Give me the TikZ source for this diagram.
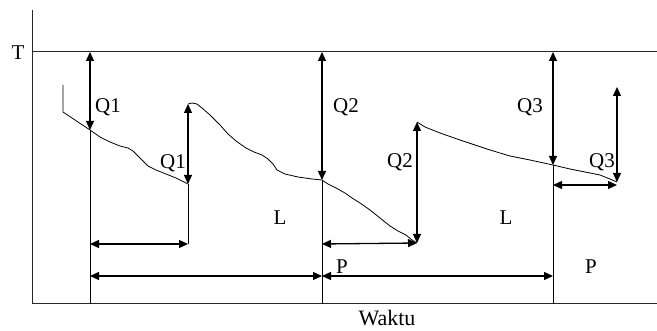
\documentclass[tikz,border=0pt]{standalone}
\usepackage{fontspec}
\setmainfont{Liberation Serif}
\usetikzlibrary{arrows.meta}
\begin{document}
\begin{tikzpicture}[x=1pt,y=-1pt,
  frame/.style={line width=1pt,draw=black!85},
  dim/.style={line width=1.3pt,{Triangle[length=9pt,width=8pt]}-{Triangle[length=9pt,width=8pt]}},
  curve/.style={line width=0.8pt},
  lbl/.style={font=\fontsize{21}{23}\selectfont,inner sep=0pt}]
\useasboundingbox (0,0) rectangle (657,331);
% axes
\coordinate (ytop) at (32,10);
\coordinate (o) at (32,304);
\coordinate (xend) at (657,304);
\coordinate (t0) at (32,52);
\coordinate (tend) at (657,52);
\draw[frame] (ytop) -- (o) -- (xend);
\draw[frame] (t0) -- (tend);
\node[lbl] (T) at (18,53) {T};
\node[lbl,font=\fontsize{22}{24}\selectfont] (wak) at (387,318) {Waktu};
% coordinates
\coordinate (a1) at (90,52);  \coordinate (b1) at (90,130); \coordinate (c1) at (90,304);
\coordinate (a2) at (322,52); \coordinate (b2) at (322,180); \coordinate (c2) at (322,304);
\coordinate (a3) at (553,52); \coordinate (b3) at (553,165); \coordinate (c3) at (553,304);
\coordinate (p1) at (188,104); \coordinate (m1) at (188,184); \coordinate (h1) at (188,244);
\coordinate (p2) at (417,122); \coordinate (m2) at (417,243);
\coordinate (p3) at (617,87);  \coordinate (m3) at (617,182);
% long verticals
\draw[curve] (b1) -- (c1);
\draw[curve] (b2) -- (c2);
\draw[curve] (b3) -- (c3);
\draw[curve] (m1) -- (h1);
% vertical dimension arrows
\draw[dim] (a1) -- (b1);
\draw[dim] (a2) -- (b2);
\draw[dim] (a3) -- (b3);
\draw[dim] (p1) -- (m1);
\draw[dim] (p2) -- (m2);
\draw[dim] (p3) -- (m3);
% horizontal arrows
\draw[dim] (90,244) -- (h1);
\draw[dim] (322,244) -- (m2);
\draw[dim] (90,276) -- (322,276);
\draw[dim] (322,276) -- (553,276);
\draw[dim] (553,185) -- (617,185);
% stock curves
\draw[curve] (63,85) -- (63,112) -- (b1) -- (100,137) -- (110,142) -- (120,146) -- (128,148) -- (133,151) -- (136,154) -- (142,160) -- (148,166) -- (156,170) -- (166,174) -- (176,178) -- (m1);
\draw[curve] (p1) -- (192,103) -- (197,104) -- (202,108) -- (210,115) -- (220,125) -- (228,134) -- (236,141) -- (246,148) -- (254,152) -- (262,155) -- (268,159) -- (273,164) -- (277,170) -- (285,174) -- (298,177) -- (312,179) -- (b2);
\draw[curve] (b2) -- (328,184) -- (336,188) -- (345,193) -- (352,198) -- (360,203) -- (370,210) -- (380,218) -- (390,226) -- (398,231) -- (406,235) -- (412,240) -- (m2);
\draw[curve] (p2) -- (425,127) -- (440,133) -- (460,140) -- (475,145) -- (490,150) -- (510,156) -- (530,160) -- (b3) -- (570,169) -- (585,172) -- (600,175) -- (610,179) -- (m3);
% labels
\node[lbl] (q1a) at (108,107) {Q1};
\node[lbl] (q1b) at (173,163) {Q1};
\node[lbl] (l1) at (280,218) {L};
\node[lbl] (q2a) at (346,107) {Q2};
\node[lbl] (q2b) at (400,162) {Q2};
\node[lbl] (l2) at (506,218) {L};
\node[lbl] (q3a) at (530,107) {Q3};
\node[lbl] (q3b) at (602,162) {Q3};
\node[lbl] (pa) at (342,267) {P};
\node[lbl] (pb) at (591,267) {P};
\end{tikzpicture}
\end{document}
